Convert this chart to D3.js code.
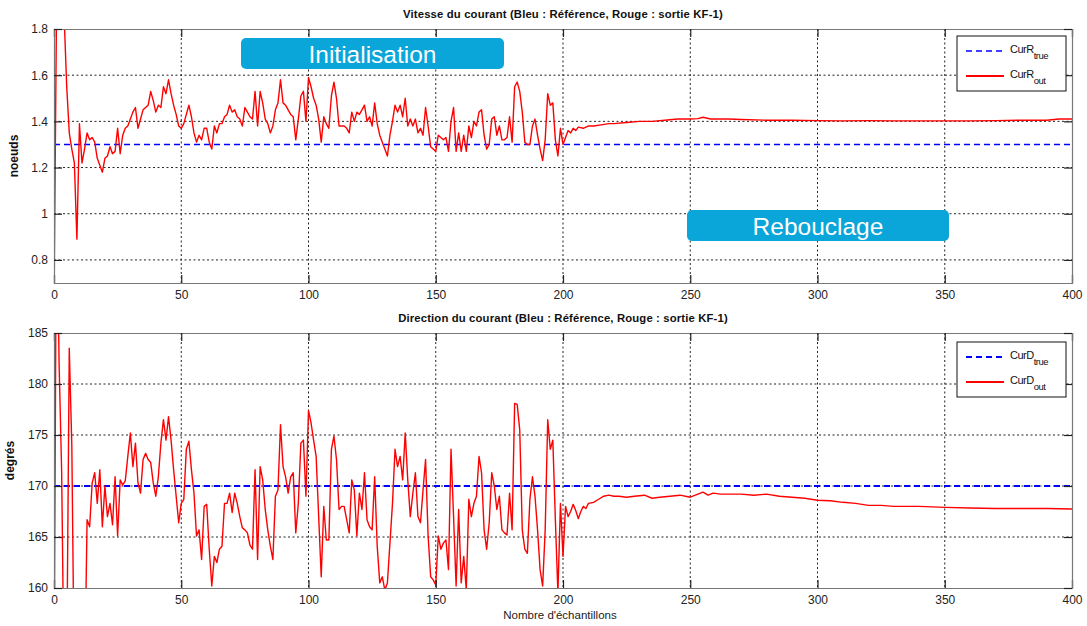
<!DOCTYPE html>
<html><head><meta charset="utf-8">
<script src="https://cdn.jsdelivr.net/npm/d3@7"></script>
<style>
body{margin:0;background:#fff;}
svg{display:block;font-family:"Liberation Sans",Arial,sans-serif;}
</style></head>
<body><svg id="c" width="1087" height="626"></svg>
<script>
// ---------- DATA ----------
const xTicks = [0,50,100,150,200,250,300,350,400];
const speedTicks = [0.8,1,1.2,1.4,1.6,1.8];
const dirTicks = [160,165,170,175,180,185];
const speedRef = 1.3;   // CurR_true
const dirRef = 170;     // CurD_true

// CurR_out, samples 0..200 (one value per sample)
const speedInit = [
0.60,1.90,2.30,2.10,1.85,1.55,1.35,1.28,1.22,0.89,
1.39,1.22,1.28,1.35,1.32,1.33,1.31,1.24,1.21,1.18,
1.24,1.25,1.29,1.26,1.27,1.37,1.26,1.34,1.37,1.38,
1.41,1.44,1.46,1.37,1.41,1.45,1.46,1.47,1.53,1.49,
1.44,1.47,1.46,1.55,1.52,1.58,1.52,1.47,1.43,1.38,
1.37,1.39,1.43,1.47,1.42,1.35,1.31,1.34,1.32,1.37,
1.37,1.31,1.28,1.38,1.35,1.39,1.39,1.42,1.43,1.47,
1.44,1.45,1.42,1.41,1.38,1.46,1.44,1.42,1.41,1.53,
1.38,1.53,1.48,1.41,1.39,1.35,1.38,1.45,1.48,1.58,
1.48,1.47,1.45,1.43,1.42,1.32,1.41,1.51,1.53,1.40,
1.59,1.55,1.50,1.47,1.41,1.31,1.42,1.39,1.37,1.51,
1.57,1.50,1.38,1.38,1.38,1.37,1.35,1.44,1.40,1.44,
1.43,1.45,1.47,1.40,1.42,1.38,1.48,1.39,1.34,1.31,
1.28,1.25,1.34,1.40,1.47,1.44,1.47,1.42,1.50,1.38,
1.41,1.38,1.41,1.35,1.37,1.34,1.46,1.38,1.29,1.28,
1.27,1.34,1.33,1.32,1.33,1.27,1.40,1.46,1.27,1.35,
1.27,1.34,1.27,1.38,1.33,1.40,1.38,1.44,1.45,1.34,
1.28,1.30,1.41,1.42,1.34,1.38,1.32,1.32,1.33,1.42,
1.31,1.55,1.57,1.53,1.44,1.31,1.30,1.30,1.38,1.41,
1.34,1.28,1.23,1.32,1.52,1.47,1.48,1.32,1.25,1.37,
1.30
];
// CurR_out, samples after 200 (sample index / value)
const speedTailX = [201,202,203,204,205,206,208,210,212,215,218,220,225,230,235,240,245,250,253,255,258,260,265,270,280,290,300,310,320,330,340,350,360,370,380,390,395,400];
const speedTailY = [1.33,1.36,1.35,1.37,1.36,1.375,1.37,1.38,1.38,1.385,1.39,1.39,1.395,1.40,1.40,1.405,1.41,1.41,1.412,1.418,1.41,1.41,1.41,1.408,1.405,1.405,1.403,1.402,1.403,1.402,1.402,1.402,1.402,1.403,1.405,1.405,1.41,1.41];

// CurD_out, samples 0..200
const dirInit = [
150,200,182,171.5,150,152,183.5,174,150,145,
145,148,150,166.7,166.0,170.3,171.3,168.3,171.6,166.0,
170.0,167.0,168.3,166.2,170.9,165.1,170.6,170.1,170.5,172.9,
175.2,171.9,174.2,170.3,169.3,172.6,173.2,172.6,172.3,170.3,
169.0,170.9,174.2,176.5,174.5,176.8,174.5,171.6,169.0,166.4,
168.3,168.7,173.6,174.4,171.6,169.3,165.1,165.7,162.8,168.0,
168.2,163.8,160.2,163.1,162.5,163.8,164.1,168.3,168.3,169.3,
167.4,169.3,168.3,167.0,165.9,165.7,165.4,164.2,163.8,171.6,
162.8,171.9,170.6,167.7,165.7,164.1,162.8,169.0,169.6,176.0,
171.9,170.9,169.3,170.9,171.3,165.4,168.3,174.2,174.5,169.0,
177.4,176.2,174.5,172.9,167.0,161.1,168.0,164.7,164.7,173.6,
174.9,172.6,167.7,168.0,168.0,166.7,165.4,170.6,169.6,165.1,
169.3,167.7,171.3,166.7,166.0,165.7,170.9,164.1,160.5,161.1,
159.8,160.5,164.4,168.3,173.6,171.9,172.9,170.6,175.2,170.6,
167.0,169.3,171.3,167.0,166.4,169.6,172.6,165.1,161.1,160.8,
160.3,165.1,163.8,164.4,164.7,161.8,173.6,167.0,160.2,167.7,
160.5,163.1,159.8,168.7,167.0,168.3,169.0,172.9,171.3,165.7,
163.8,166.4,171.3,170.0,167.7,169.0,165.7,165.4,165.2,169.3,
165.7,178.1,178.0,175.5,165.7,163.8,163.4,168.7,170.9,169.0,
165.7,161.8,160.2,165.7,176.5,173.6,174.5,166.7,159.5,168.3,
163.1
];
const dirTailX = [201,202,203,204,205,206,207,208,209,210,212,214,216,218,220,222,225,228,232,235,238,242,246,250,253,255,257,259,262,266,270,275,280,285,290,295,300,305,310,315,320,325,330,340,350,360,370,380,390,400];
const dirTailY = [168.0,167.0,167.5,168.2,167.6,166.8,167.5,168.0,167.8,168.3,168.4,168.7,169.0,169.1,169.0,169.0,168.9,169.0,169.1,168.8,168.9,169.0,169.1,168.9,169.2,169.4,169.1,169.3,169.2,169.2,169.2,169.1,169.2,169.0,168.9,168.8,168.6,168.55,168.4,168.3,168.1,168.1,168.0,168.0,167.9,167.85,167.8,167.8,167.8,167.75];

// ---------- DRAW ----------
const svg = d3.select("#c");
const x = d3.scaleLinear().domain([0,400]).range([54,1072]);

function panel(cfg){
  const y = d3.scaleLinear().domain(cfg.domain).range([cfg.bottom, cfg.top]);
  const g = svg.append("g");
  const L = x.range()[0], R = x.range()[1];
  g.append("rect").attr("x",L).attr("y",cfg.top).attr("width",R-L).attr("height",cfg.bottom-cfg.top).attr("fill","#fff");
  // grid
  g.append("g").selectAll("line").data(xTicks.filter(t=>t>0&&t<400)).join("line")
    .attr("x1",d=>x(d)).attr("x2",d=>x(d)).attr("y1",cfg.top).attr("y2",cfg.bottom)
    .attr("stroke","#222").attr("stroke-width",1).attr("stroke-dasharray","2,2.5");
  g.append("g").selectAll("line").data(cfg.ticks.filter(t=>t>cfg.domain[0]&&t<cfg.domain[1])).join("line")
    .attr("x1",L).attr("x2",R).attr("y1",d=>y(d)).attr("y2",d=>y(d))
    .attr("stroke","#222").attr("stroke-width",1).attr("stroke-dasharray","2,2.5");
  // clip
  const cid = "clip"+cfg.id;
  svg.append("clipPath").attr("id",cid).append("rect")
    .attr("x",L).attr("y",cfg.top).attr("width",R-L).attr("height",cfg.bottom-cfg.top);
  const lines = g.append("g").attr("clip-path",`url(#${cid})`);
  lines.append("line").attr("x1",L).attr("x2",R).attr("y1",y(cfg.ref)).attr("y2",y(cfg.ref))
    .attr("stroke","#0000ff").attr("stroke-width",cfg.refW).attr("stroke-dasharray","6,4");
  const data = cfg.init.map((v,i)=>[i,v]).concat(cfg.tailX.map((t,k)=>[t,cfg.tailY[k]]));
  lines.append("path").datum(data)
    .attr("d",d3.line().x(d=>x(d[0])).y(d=>y(d[1])))
    .attr("fill","none").attr("stroke","#ff0000").attr("stroke-width",1.4).attr("stroke-linejoin","round");
  // axes (inward ticks) with labels
  const ax = g.append("g").attr("transform",`translate(0,${cfg.bottom})`)
    .call(d3.axisBottom(x).tickValues(xTicks).tickSize(-8).tickPadding(7).tickFormat(d3.format("d")));
  const axT = g.append("g").attr("transform",`translate(0,${cfg.top})`)
    .call(d3.axisTop(x).tickValues(xTicks).tickSize(-8).tickFormat(""));
  const ay = g.append("g").attr("transform",`translate(${L},0)`)
    .call(d3.axisLeft(y).tickValues(cfg.ticks).tickSize(-8).tickPadding(6).tickFormat(cfg.fmt));
  const ayR = g.append("g").attr("transform",`translate(${R},0)`)
    .call(d3.axisRight(y).tickValues(cfg.ticks).tickSize(-8).tickFormat(""));
  [ax,axT,ay,ayR].forEach(a=>{
    a.select(".domain").attr("stroke","#777").attr("stroke-width",1.2);
    a.selectAll(".tick line").attr("stroke","#222").attr("stroke-width",1.2);
    a.selectAll(".tick text").attr("fill","#222").attr("font-size",12).attr("font-family","Liberation Sans, Arial, sans-serif");
  });
  // title
  svg.append("text").attr("x",(L+R)/2).attr("y",cfg.top-11).attr("text-anchor","middle")
    .attr("font-size",11.3).attr("font-weight","bold").attr("fill","#111").attr("letter-spacing",0.15).text(cfg.title);
  // y label
  svg.append("text").attr("transform",`translate(${cfg.ylx},${(cfg.top+cfg.bottom)/2}) rotate(-90)`)
    .attr("text-anchor","middle").attr("font-size",12).attr("font-weight","bold").attr("fill","#111").text(cfg.ylabel);
  // legend
  const lg = svg.append("g");
  const lx = 957, ly = cfg.top + cfg.legOff;
  lg.append("rect").attr("x",lx).attr("y",ly).attr("width",109).attr("height",55)
    .attr("fill","#fff").attr("stroke","#111").attr("stroke-width",1);
  const items = [
    {name:cfg.legName, sub:"true", color:"#0000ff", dash:"6,4", w:cfg.refW, dy:15},
    {name:cfg.legName, sub:"out", color:"#ff0000", dash:null, w:1.8, dy:40}
  ];
  items.forEach(it=>{
    lg.append("line").attr("x1",lx+9).attr("x2",lx+47).attr("y1",ly+it.dy).attr("y2",ly+it.dy)
      .attr("stroke",it.color).attr("stroke-width",it.w).attr("stroke-dasharray",it.dash);
    const t = lg.append("text").attr("x",lx+53).attr("y",ly+it.dy+2).attr("font-size",11).attr("fill","#111").attr("letter-spacing",-0.5);
    t.append("tspan").text(it.name);
    t.append("tspan").attr("dy",6).attr("font-size",9.5).text(it.sub);
  });
  return y;
}

panel({id:"a", domain:[0.7,1.8], top:29, bottom:283, ticks:speedTicks, fmt:d3.format(""),
  ref:speedRef, refW:1.6, init:speedInit, tailX:speedTailX, tailY:speedTailY,
  title:"Vitesse du courant (Bleu : Référence, Rouge : sortie KF-1)", ylabel:"noeuds", ylx:18,
  legName:"CurR", legOff:7});
panel({id:"b", domain:[160,185], top:333, bottom:588, ticks:dirTicks, fmt:d3.format("d"),
  ref:dirRef, refW:2.2, init:dirInit, tailX:dirTailX, tailY:dirTailY,
  title:"Direction du courant (Bleu : Référence, Rouge : sortie KF-1)", ylabel:"degrés", ylx:14,
  legName:"CurD", legOff:9});

// x label
svg.append("text").attr("x",560).attr("y",619).attr("text-anchor","middle").attr("font-size",11.5).attr("fill","#222")
  .text("Nombre d'échantillons");

// annotation boxes
const notes = [
  {label:"Initialisation", x0:241, x1:504, y0:38, y1:69},
  {label:"Rebouclage", x0:687, x1:949, y0:210, y1:241}
];
const ng = svg.append("g");
notes.forEach(n=>{
  ng.append("rect").attr("x",n.x0).attr("y",n.y0).attr("width",n.x1-n.x0).attr("height",n.y1-n.y0)
    .attr("rx",5).attr("fill","#0aa5d9");
  ng.append("text").attr("x",(n.x0+n.x1)/2).attr("y",n.y1-6).attr("text-anchor","middle")
    .attr("font-size",24.5).attr("fill","#fff").text(n.label);
});
</script></body></html>
